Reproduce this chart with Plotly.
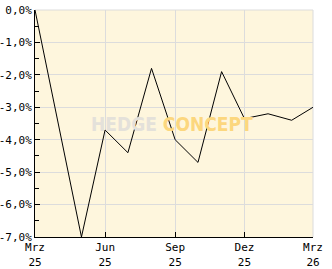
import plotly.graph_objects as go

months = ["2025-03-01", "2025-04-01", "2025-05-01", "2025-06-01", "2025-07-01",
          "2025-08-01", "2025-09-01", "2025-10-01", "2025-11-01", "2025-12-01",
          "2026-01-01", "2026-02-01", "2026-03-01"]
values = [0.0, -3.5, -7.0, -3.7, -4.4, -1.8, -4.0, -4.7, -1.9, -3.35, -3.2, -3.4, -3.0]

x_tickvals = ["2025-03-01", "2025-06-01", "2025-09-01", "2025-12-01", "2026-03-01"]
x_ticktext = ["Mrz<br>25", "Jun<br>25", "Sep<br>25", "Dez<br>25", "Mrz<br>26"]
y_tickvals = [0, -1, -2, -3, -4, -5, -6, -7]
y_ticktext = ["0,0%", "-1,0%", "-2,0%", "-3,0%", "-4,0%", "-5,0%", "-6,0%", "-7,0%"]

fig = go.Figure()
fig.add_trace(go.Scatter(x=months, y=values, mode="lines",
                         line=dict(color="#000000", width=1), hoverinfo="skip"))

font_family = "DejaVu Sans Mono"
fig.update_layout(
    width=332, height=269,
    margin=dict(l=35, r=19, t=10, b=32),
    paper_bgcolor="#FFFFFF",
    plot_bgcolor="#FEF6DD",
    showlegend=False,
    font=dict(family=font_family, size=11, color="#000000"),
    xaxis=dict(
        type="date",
        range=["2025-03-01", "2026-03-01"],
        tickvals=x_tickvals, ticktext=x_ticktext,
        showgrid=True, gridcolor="#DCDCDC", gridwidth=1,
        showline=True, linecolor="#000000", linewidth=1,
        ticks="inside", ticklen=5, tickcolor="#000000",
        zeroline=False, fixedrange=True, automargin=False,
        tickfont=dict(family=font_family, size=11, color="#000000"),
        ticklabelstandoff=0,
    ),
    yaxis=dict(
        range=[-7, 0],
        tickvals=y_tickvals, ticktext=y_ticktext,
        showgrid=True, gridcolor="#DCDCDC", gridwidth=1,
        showline=True, linecolor="#000000", linewidth=1,
        ticks="inside", ticklen=5, tickcolor="#000000",
        minor=dict(dtick=0.5, ticks="inside", ticklen=4, tickcolor="#000000", showgrid=False),
        zeroline=False, fixedrange=True, automargin=False,
        tickfont=dict(family=font_family, size=11, color="#000000"),
        ticklabelstandoff=0,
    ),
    shapes=[
        dict(type="line", xref="x domain", yref="y domain", x0=0, x1=1, y0=1, y1=1,
             line=dict(color="#DCDCDC", width=1), layer="below"),
        dict(type="line", xref="x domain", yref="y domain", x0=1, x1=1, y0=0, y1=1,
             line=dict(color="#DCDCDC", width=1), layer="below"),
    ],
    annotations=[
        dict(xref="paper", yref="paper", x=0.493, y=0.5, showarrow=False,
             xanchor="center", yanchor="middle",
             text="<b><span style='color:#E4E1DA'>HEDGE</span><span style='color:#FCD77E'> CONCEPT</span></b>",
             font=dict(family="DejaVu Sans Condensed", size=19)),
    ],
)

fig.write_html("out.html")
